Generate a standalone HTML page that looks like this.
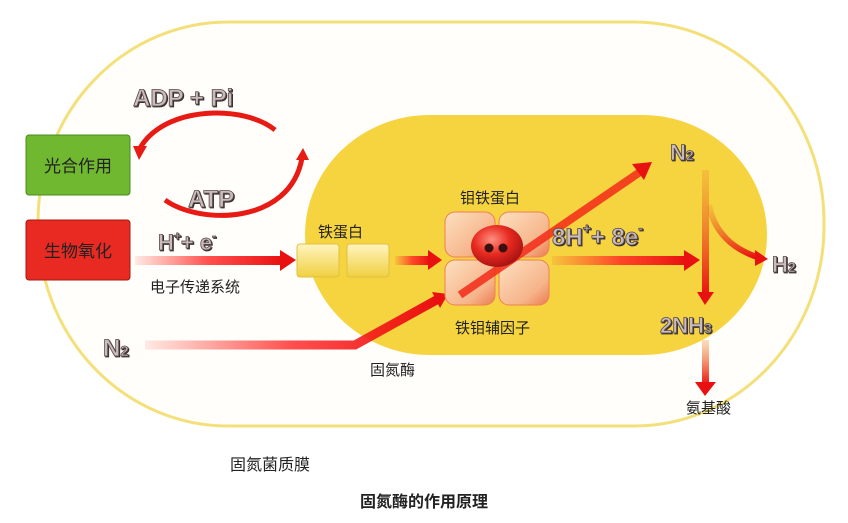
<!DOCTYPE html>
<html><head><meta charset="utf-8"><style>
body{margin:0;background:#fff;}
svg{display:block;}
.cn{font-family:"Liberation Sans","Noto Sans CJK SC",sans-serif;fill:#222;}
.chem{font-family:"Liberation Sans",sans-serif;font-weight:bold;fill:#c9bcbc;stroke:#5a4a4a;stroke-width:0.8;filter:drop-shadow(1.5px 1.5px 0 #3a3030);}
</style></head><body>
<svg width="848" height="523" viewBox="0 0 848 523" xmlns="http://www.w3.org/2000/svg">
<defs>
<linearGradient id="fadeR" x1="0" x2="1"><stop offset="0" stop-color="#ff3020" stop-opacity="0.1"/><stop offset="0.5" stop-color="#f22" stop-opacity="0.8"/><stop offset="1" stop-color="#e81010"/></linearGradient>
<linearGradient id="fadeD" x1="0" y1="0" x2="0" y2="1"><stop offset="0" stop-color="#f09030" stop-opacity="0.3"/><stop offset="1" stop-color="#e81010"/></linearGradient>
<radialGradient id="ball" cx="0.4" cy="0.35" r="0.7"><stop offset="0" stop-color="#ff9080"/><stop offset="0.5" stop-color="#e82a20"/><stop offset="1" stop-color="#a01010"/></radialGradient>
<linearGradient id="sq" x1="0" y1="0" x2="0" y2="1"><stop offset="0" stop-color="#fff4c0"/><stop offset="1" stop-color="#f0d040"/></linearGradient>
<linearGradient id="tile" x1="0" y1="0" x2="1" y2="1"><stop offset="0" stop-color="#fde0c0"/><stop offset="0.7" stop-color="#f6b48a"/><stop offset="1" stop-color="#ec7a50"/></linearGradient>
</defs>
<rect x="38" y="22" width="786" height="404" rx="190" ry="200" fill="#fffefa" stroke="#f4e07a" stroke-width="3"/>
<rect x="305" y="115" width="462" height="240" rx="125" ry="120" fill="#f5d440"/>
<rect x="26" y="135" width="104" height="60" rx="3" fill="#6fb830" stroke="#4a8a20"/>
<text x="78" y="172" class="cn" font-size="17" text-anchor="middle">光合作用</text>
<rect x="26" y="220" width="104" height="60" rx="3" fill="#e82a22" stroke="#a01a10"/>
<text x="78" y="257" class="cn" font-size="17" text-anchor="middle">生物氧化</text>
<path d="M275 130 C245 105,165 105,140 148" fill="none" stroke="#e81a14" stroke-width="5"/>
<polygon points="133,146 147,146 139,160" fill="#e81a14"/>
<path d="M165 200 C200 225,290 225,302 158" fill="none" stroke="#e81a14" stroke-width="5"/>
<polygon points="296,160 309,160 303,148" fill="#e81a14"/>
<text x="133" y="106" class="chem" font-size="24">ADP + Pi</text>
<text x="188" y="207" class="chem" font-size="24">ATP</text>
<text x="158" y="250" class="chem" font-size="22">H<tspan font-size="12" dy="-10">+</tspan><tspan dy="10">+ e</tspan><tspan font-size="12" dy="-10">-</tspan></text>
<rect x="135" y="256" width="148" height="9" fill="url(#fadeR)"/>
<polygon points="280,250 296,260 280,271" fill="#e81010"/>
<text x="150" y="292" class="cn" font-size="15">电子传递系统</text>
<rect x="297" y="244" width="42" height="33" rx="3" fill="url(#sq)" stroke="#e0c040"/>
<rect x="347" y="244" width="42" height="33" rx="3" fill="url(#sq)" stroke="#e0c040"/>
<text x="318" y="237" class="cn" font-size="15">铁蛋白</text>
<rect x="395" y="256" width="35" height="9" fill="url(#fadeR)"/>
<polygon points="428,250 442,260 428,270" fill="#e81010"/>
<text x="103" y="356" class="chem" font-size="24">N<tspan font-size="15">2</tspan></text>
<path d="M145 345 L355 345 L440 298" fill="none" stroke="url(#fadeR)" stroke-width="9"/>
<polygon points="432,292 448,294 440,308" fill="#e81010"/>
<text x="370" y="375" class="cn" font-size="15">固氮酶</text>
<text x="460" y="203" class="cn" font-size="15">钼铁蛋白</text>
<rect x="445" y="212" width="50" height="45" rx="10" fill="url(#tile)" stroke="#f08050"/>
<rect x="499" y="212" width="50" height="45" rx="10" fill="url(#tile)" stroke="#f08050"/>
<rect x="445" y="260" width="50" height="45" rx="10" fill="url(#tile)" stroke="#f08050"/>
<rect x="499" y="260" width="50" height="45" rx="10" fill="url(#tile)" stroke="#f08050"/>
<text x="455" y="333" class="cn" font-size="15">铁钼辅因子</text>
<line x1="460" y1="295" x2="640" y2="172" stroke="#f22a18" stroke-width="8" stroke-opacity="0.85"/>
<polygon points="632,164 652,162 644,180" fill="#e81010"/>
<ellipse cx="497" cy="246" rx="26" ry="21" fill="url(#ball)"/>
<circle cx="489" cy="248" r="4.5" fill="#3a1010"/>
<circle cx="503" cy="248" r="4.5" fill="#3a1010"/>
<text x="552" y="245" class="chem" font-size="24">8H<tspan font-size="14" dy="-12">+</tspan><tspan dy="12">+ 8e</tspan><tspan font-size="14" dy="-12">-</tspan></text>
<rect x="552" y="256" width="135" height="9" fill="url(#fadeR)"/>
<polygon points="684,250 700,260 684,271" fill="#e81010"/>
<text x="670" y="160" class="chem" font-size="22">N<tspan font-size="14">2</tspan></text>
<rect x="702" y="170" width="7" height="125" fill="url(#fadeD)"/>
<polygon points="697,292 714,292 705,305" fill="#e81010"/>
<path d="M709 205 C715 235,735 250,760 258" fill="none" stroke="url(#fadeD)" stroke-width="6"/>
<polygon points="755,250 768,259 755,266" fill="#e81010"/>
<text x="772" y="272" class="chem" font-size="22">H<tspan font-size="14">2</tspan></text>
<text x="660" y="333" class="chem" font-size="22">2NH<tspan font-size="14">3</tspan></text>
<rect x="702" y="340" width="7" height="45" fill="url(#fadeD)"/>
<polygon points="695,382 716,382 705,396" fill="#e81010"/>
<text x="686" y="413" class="cn" font-size="15">氨基酸</text>
<text x="230" y="470" class="cn" font-size="16">固氮菌质膜</text>
<text x="424" y="507" class="cn" font-size="16" text-anchor="middle" font-weight="bold">固氮酶的作用原理</text>
</svg>
</body></html>
